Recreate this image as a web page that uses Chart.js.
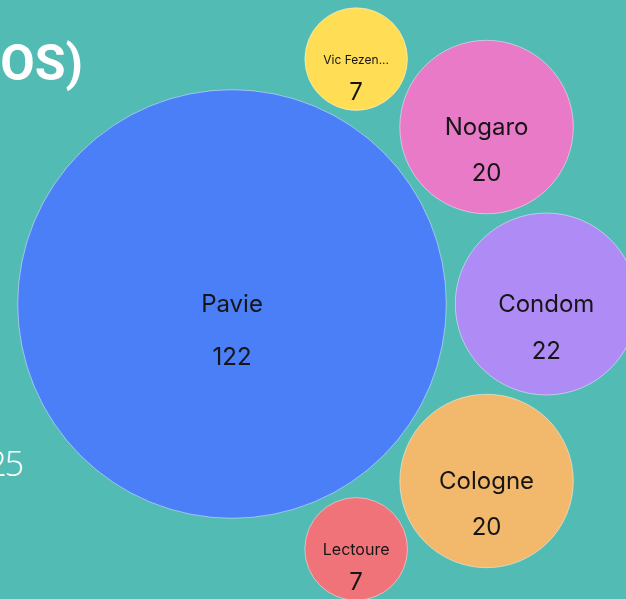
<!DOCTYPE html>
<html>
<head>
<meta charset="utf-8">
<script src="https://cdn.jsdelivr.net/npm/chart.js@4"></script>
<style>
  html, body { margin: 0; padding: 0; }
  body { width: 626px; height: 599px; overflow: hidden; background: #52bbb3; position: relative; }
  .title { position: absolute; right: 543px; top: 34px; white-space: nowrap; color: #fff;
    font: 700 50px "Roboto", sans-serif; line-height: normal; }
  .year { position: absolute; right: 604px; top: 440px; white-space: nowrap; color: #fff;
    font: 300 34px "Open Sans", sans-serif; letter-spacing: -2px; }
  #wrap { position: absolute; left: 0; top: 0; width: 626px; height: 599px; }
</style>
</head>
<body>
<div class="title">VILLES (DOS)</div>
<div class="year">2025</div>
<div id="wrap"><canvas id="chart"></canvas></div>
<script>
// Packed bubbles: the first city is the hub, the others ring around it
const categories = ['Pavie', 'Vic Fezensac', 'Nogaro', 'Condom', 'Cologne', 'Lectoure'];
const values = [122, 7, 20, 22, 20, 7];
const colors = ['#4a7ff7', '#ffdd55', '#e87ac8', '#ae8bf5', '#f2b86c', '#f0737a'];

// layout settings
const PX_PER_ROOT = 19.4;   // radius = k * sqrt(value), so area follows value
const GAP = 9;
const HUB = { x: 232, y: 304 };

function radiusOf(v) { return PX_PER_ROOT * Math.sqrt(v); }

// point at distance d1 from c1 and d2 from c2, above (up=true) or below
function tangentPoint(c1, d1, c2, d2, up) {
  const dx = c2.x - c1.x, dy = c2.y - c1.y;
  const d = Math.hypot(dx, dy);
  const a = (d1 * d1 - d2 * d2 + d * d) / (2 * d);
  const h = Math.sqrt(Math.max(0, d1 * d1 - a * a));
  const bx = c1.x + a * dx / d, by = c1.y + a * dy / d;
  const p1 = { x: bx - h * dy / d, y: by + h * dx / d };
  const p2 = { x: bx + h * dy / d, y: by - h * dx / d };
  if (up) return p1.y < p2.y ? p1 : p2;
  return p1.y > p2.y ? p1 : p2;
}

function packLayout() {
  const r = values.map(radiusOf);
  const pos = new Array(values.length);
  pos[0] = { x: HUB.x, y: HUB.y };
  // largest of the ring sits straight right of the hub
  let mid = 1;
  for (let i = 2; i < values.length; i++) if (values[i] > values[mid]) mid = i;
  pos[mid] = { x: HUB.x + r[0] + GAP + r[mid], y: HUB.y };
  for (let i = mid - 1; i >= 1; i--)
    pos[i] = tangentPoint(pos[0], r[0] + r[i] + GAP, pos[i + 1], r[i + 1] + r[i] + GAP, true);
  for (let i = mid + 1; i < values.length; i++)
    pos[i] = tangentPoint(pos[0], r[0] + r[i] + GAP, pos[i - 1], r[i - 1] + r[i] + GAP, false);
  return pos.map((p, i) => ({ x: p.x, y: p.y, r: r[i] }));
}

function fitLabel(ctx, text, maxW) {
  let size = 24;
  ctx.font = `400 ${size}px Inter, sans-serif`;
  while (ctx.measureText(text).width > maxW && size > 12) {
    size--;
    ctx.font = `400 ${size}px Inter, sans-serif`;
  }
  let t = text;
  if (ctx.measureText(t).width > maxW) {
    while (t.length > 1 && ctx.measureText(t + '...').width > maxW) t = t.slice(0, -1);
    t = t.trimEnd() + '...';
  }
  return { text: t, size };
}

const bubbleLabels = {
  id: 'bubbleLabels',
  afterDatasetsDraw(chart) {
    const ctx = chart.ctx;
    const meta = chart.getDatasetMeta(0);
    const data = chart.data.datasets[0].data;
    ctx.save();
    ctx.fillStyle = '#151515';
    ctx.textAlign = 'center';
    ctx.textBaseline = 'middle';
    meta.data.forEach((el, i) => {
      const r = data[i].r;
      const lab = fitLabel(ctx, categories[i], 1.37 * r);
      ctx.font = `400 ${lab.size}px Inter, sans-serif`;
      ctx.fillText(lab.text, el.x, el.y + 1);
      ctx.font = '400 24px Inter, sans-serif';
      ctx.fillText(String(values[i]), el.x, el.y + Math.min(54, 16 + 0.35 * r));
    });
    ctx.restore();
  }
};

new Chart(document.getElementById('chart'), {
  type: 'bubble',
  data: {
    labels: categories,
    datasets: [{
      data: packLayout(),
      backgroundColor: colors,
      borderColor: 'rgba(255,255,255,0.45)',
      borderWidth: 1,
      hoverRadius: 0,
      clip: false,
    }],
  },
  options: {
    responsive: true, maintainAspectRatio: false, animation: false,
    layout: { padding: 0, autoPadding: false },
    events: [],
    plugins: { legend: { display: false }, tooltip: { enabled: false } },
    scales: {
      x: { type: 'linear', min: 0, max: 626, display: false },
      y: { type: 'linear', min: 0, max: 599, reverse: true, display: false },
    },
  },
  plugins: [bubbleLabels],
});
</script>
</body>
</html>
